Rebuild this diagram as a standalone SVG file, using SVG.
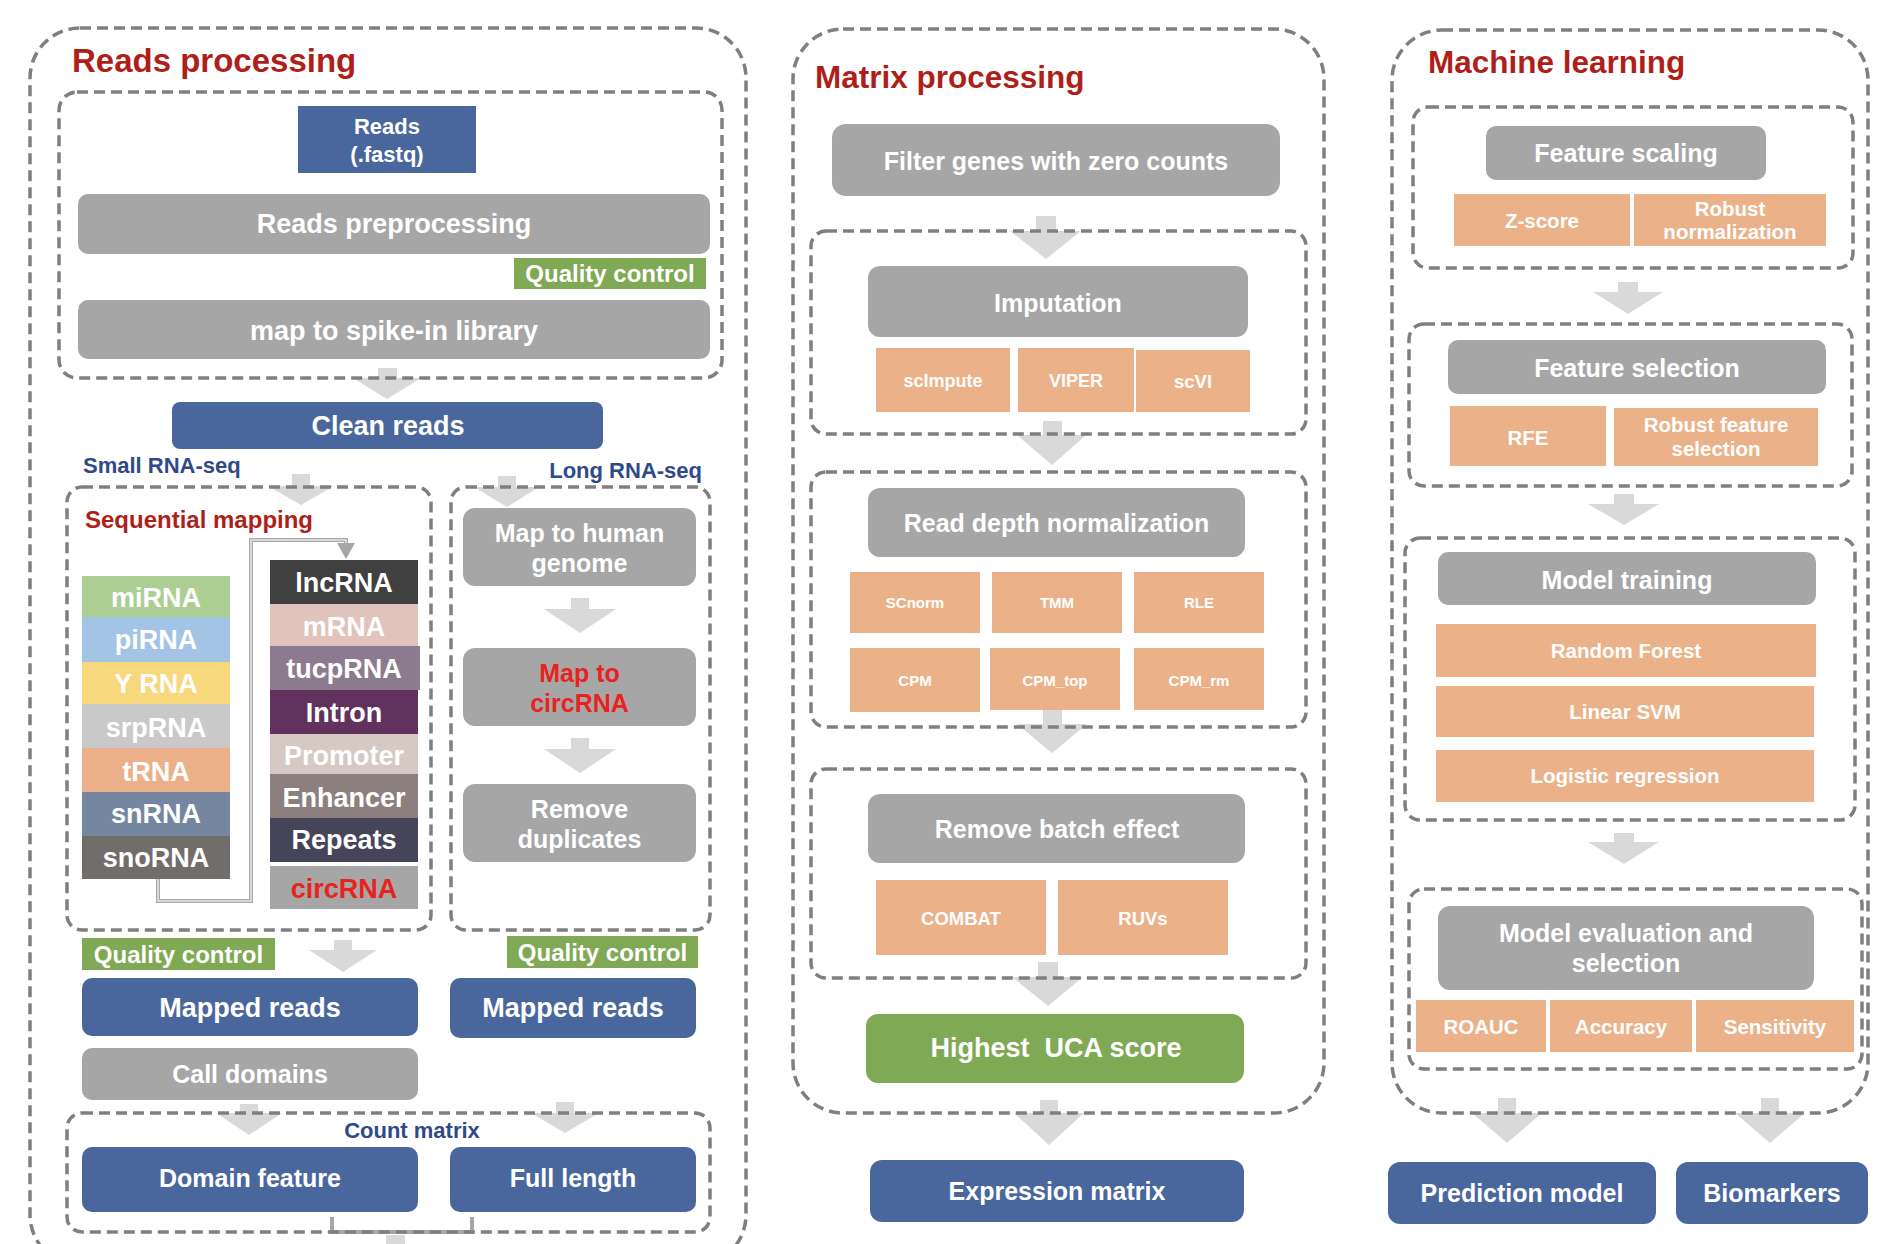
<svg xmlns="http://www.w3.org/2000/svg" width="1888" height="1244" viewBox="0 0 1888 1244">
<style>
.bg{fill:#ffffff}
.dash{fill:none;stroke:#7F7F7F;stroke-width:3.5;stroke-dasharray:11 6}
.arrow{fill:#D9D9D9}
.blue{fill:#4A679D}
.gray{fill:#A6A6A6}
.orange{fill:#EBB28A}
.green{fill:#7FA955}
.t{font-family:"Liberation Sans",Arial,sans-serif;font-weight:bold;fill:#ffffff;text-anchor:middle}
.title{font-family:"Liberation Sans",Arial,sans-serif;font-weight:bold;fill:#AF1F1A}
.lab{font-family:"Liberation Sans",Arial,sans-serif;font-weight:bold;fill:#2E4A88}
.red{fill:#E8231E}
.conn{fill:none;stroke:#A9A9A9;stroke-width:4}
.conn2{fill:none;stroke:#E6E6E6;stroke-width:1.5}
</style>
<rect class="bg" x="0" y="0" width="1888" height="1244"/>

<!-- connectors (block arrows) -->
<g id="connectors">
  <path class="arrow" d="M378,368H397V378H421L387,399L353,378H378Z"/>
  <path class="arrow" d="M292,474H310V486H334L301,505L268,486H292Z"/>
  <path class="arrow" d="M498,476H516V487H539L507,507L474,487H498Z"/>
  <path class="arrow" d="M571,598H589V609H616L580,633L544,609H571Z"/>
  <path class="arrow" d="M571,738H589V749H616L580,773L544,749H571Z"/>
  <path class="arrow" d="M334,940H352V950H377L343,972L309,950H334Z"/>
  <path class="arrow" d="M240,1104H258V1113H282L249,1135L216,1113H240Z"/>
  <path class="arrow" d="M556,1102H574V1113H599L565,1133L531,1113H556Z"/>
  <rect class="arrow" x="386" y="1235" width="19" height="15"/>
  <path class="arrow" d="M1036,216H1056V231H1081L1046,259L1010,231H1036Z"/>
  <path class="arrow" d="M1043,421H1062V435H1086L1052,465L1017,435H1043Z"/>
  <path class="arrow" d="M1043,708H1062V724H1087L1052,753L1017,724H1043Z"/>
  <path class="arrow" d="M1038,962H1058V977H1083L1048,1006L1012,977H1038Z"/>
  <path class="arrow" d="M1040,1100H1058V1113H1084L1049,1145L1014,1113H1040Z"/>
  <path class="arrow" d="M1618,282H1638V292H1663L1628,314L1593,292H1618Z"/>
  <path class="arrow" d="M1614,494H1634V504H1659L1624,525L1588,504H1614Z"/>
  <path class="arrow" d="M1614,833H1634V842H1659L1624,864L1588,842H1614Z"/>
  <path class="arrow" d="M1498,1098H1516V1113H1542L1507,1143L1472,1113H1498Z"/>
  <path class="arrow" d="M1761,1098H1779V1113H1805L1770,1143L1735,1113H1761Z"/>
  <!-- sequential mapping loop connector -->
  <path class="conn" d="M158,879V901H251V540H346V546"/>
  <path class="conn2" d="M158,879V901H251V540H346V546"/>
  <polygon points="337,543 355,543 346,559" fill="#A6A6A6"/>
  <!-- count matrix bracket -->
  <path d="M332,1217V1232H472V1217" fill="none" stroke="#A6A6A6" stroke-width="4"/>
</g>

<!-- ===== Reads processing ===== -->
<g id="reads-processing">
  <rect class="dash" x="30" y="28" width="716" height="1237" rx="50"/>
  <text class="title" x="72" y="72" font-size="33">Reads processing</text>
  <rect class="dash" x="59" y="92" width="663" height="286" rx="18"/>
  <rect class="dash" x="67" y="487" width="364" height="443" rx="15"/>
  <rect class="dash" x="451" y="487" width="259" height="443" rx="15"/>
  <rect class="dash" x="67" y="1113" width="643" height="119" rx="15"/>
</g>

<g id="reads-fastq">
  <rect class="blue" x="298" y="106" width="178" height="67"/>
  <text class="t" x="387" y="134" font-size="22">Reads</text>
  <text class="t" x="387" y="162" font-size="22">(.fastq)</text>
</g>
<g id="reads-preprocessing">
  <rect class="gray" x="78" y="194" width="632" height="60" rx="10"/>
  <text class="t" x="394" y="233" font-size="27">Reads preprocessing</text>
</g>
<g id="qc-top">
  <rect class="green" x="514" y="258" width="192" height="31"/>
  <text class="t" x="610" y="282" font-size="24">Quality control</text>
</g>
<g id="spike-in">
  <rect class="gray" x="78" y="300" width="632" height="59" rx="10"/>
  <text class="t" x="394" y="340" font-size="27">map to spike-in library</text>
</g>
<g id="clean-reads">
  <rect class="blue" x="172" y="402" width="431" height="47" rx="8"/>
  <text class="t" x="388" y="435" font-size="27">Clean reads</text>
</g>
<g id="labels-seq">
  <text class="lab" x="83" y="473" font-size="22">Small RNA-seq</text>
  <text class="lab" x="702" y="478" font-size="22" text-anchor="end">Long RNA-seq</text>
  <text class="title" x="85" y="528" font-size="24">Sequential mapping</text>
</g>

<g id="small-rna-types">
  <rect x="82" y="576" width="148" height="41" fill="#ADCE93"/>
  <text class="t" x="156" y="607" font-size="27">miRNA</text>
  <rect x="82" y="617" width="148" height="45" fill="#A3C4E4"/>
  <text class="t" x="156" y="649" font-size="27">piRNA</text>
  <rect x="82" y="662" width="148" height="42" fill="#F8D87C"/>
  <text class="t" x="156" y="693" font-size="27">Y RNA</text>
  <rect x="82" y="704" width="148" height="44" fill="#C9C9C9"/>
  <text class="t" x="156" y="737" font-size="27">srpRNA</text>
  <rect x="82" y="748" width="148" height="44" fill="#EBB08A"/>
  <text class="t" x="156" y="781" font-size="27">tRNA</text>
  <rect x="82" y="792" width="148" height="44" fill="#7586A0"/>
  <text class="t" x="156" y="823" font-size="27">snRNA</text>
  <rect x="82" y="836" width="148" height="43" fill="#716D6B"/>
  <text class="t" x="156" y="867" font-size="27">snoRNA</text>
</g>
<g id="long-rna-types">
  <rect x="270" y="560" width="148" height="44" fill="#404040"/>
  <text class="t" x="344" y="592" font-size="27">lncRNA</text>
  <rect x="270" y="604" width="148" height="42" fill="#DFC3BC"/>
  <text class="t" x="344" y="636" font-size="27">mRNA</text>
  <rect x="270" y="646" width="150" height="44" fill="#8C7A8F"/>
  <text class="t" x="344" y="678" font-size="27">tucpRNA</text>
  <rect x="270" y="690" width="148" height="44" fill="#61325E"/>
  <text class="t" x="344" y="722" font-size="27">Intron</text>
  <rect x="270" y="734" width="148" height="40" fill="#D6C9C4"/>
  <text class="t" x="344" y="765" font-size="27">Promoter</text>
  <rect x="270" y="774" width="148" height="44" fill="#8C807E"/>
  <text class="t" x="344" y="807" font-size="27">Enhancer</text>
  <rect x="270" y="818" width="148" height="44" fill="#464458"/>
  <text class="t" x="344" y="849" font-size="27">Repeats</text>
  <rect x="270" y="866" width="148" height="43" fill="#A6A6A6"/>
  <text class="t red" x="344" y="898" font-size="27">circRNA</text>
</g>

<g id="map-human">
  <rect class="gray" x="463" y="508" width="233" height="78" rx="12"/>
  <text class="t" x="579.5" y="542" font-size="25">Map to human</text>
  <text class="t" x="579.5" y="572" font-size="25">genome</text>
</g>
<g id="map-circ">
  <rect class="gray" x="463" y="648" width="233" height="78" rx="12"/>
  <text class="t red" x="579.5" y="682" font-size="25">Map to</text>
  <text class="t red" x="579.5" y="712" font-size="25">circRNA</text>
</g>
<g id="remove-dup">
  <rect class="gray" x="463" y="784" width="233" height="78" rx="12"/>
  <text class="t" x="579.5" y="818" font-size="25">Remove</text>
  <text class="t" x="579.5" y="848" font-size="25">duplicates</text>
</g>
<g id="qc-small">
  <rect class="green" x="82" y="938" width="193" height="32"/>
  <text class="t" x="178.5" y="963" font-size="24">Quality control</text>
</g>
<g id="qc-long">
  <rect class="green" x="507" y="936" width="191" height="32"/>
  <text class="t" x="602.5" y="961" font-size="24">Quality control</text>
</g>
<g id="mapped-small">
  <rect class="blue" x="82" y="978" width="336" height="58" rx="10"/>
  <text class="t" x="250" y="1017" font-size="27">Mapped reads</text>
</g>
<g id="mapped-long">
  <rect class="blue" x="450" y="978" width="246" height="60" rx="10"/>
  <text class="t" x="573" y="1017" font-size="27">Mapped reads</text>
</g>
<g id="call-domains">
  <rect class="gray" x="82" y="1048" width="336" height="52" rx="10"/>
  <text class="t" x="250" y="1083" font-size="25">Call domains</text>
</g>
<g id="count-matrix">
  <text class="lab" x="412" y="1138" font-size="22" text-anchor="middle">Count matrix</text>
</g>
<g id="domain-feature">
  <rect class="blue" x="82" y="1147" width="336" height="65" rx="10"/>
  <text class="t" x="250" y="1187" font-size="25">Domain feature</text>
</g>
<g id="full-length">
  <rect class="blue" x="450" y="1147" width="246" height="65" rx="10"/>
  <text class="t" x="573" y="1187" font-size="25">Full length</text>
</g>

<!-- ===== Matrix processing ===== -->
<g id="matrix-processing">
  <rect class="dash" x="793" y="29" width="531" height="1084" rx="50"/>
  <text class="title" x="815" y="88" font-size="31.5">Matrix processing</text>
  <rect class="dash" x="811" y="231" width="495" height="203" rx="15"/>
  <rect class="dash" x="811" y="472" width="495" height="255" rx="15"/>
  <rect class="dash" x="811" y="769" width="495" height="209" rx="15"/>
</g>
<g id="filter-genes">
  <rect class="gray" x="832" y="124" width="448" height="72" rx="14"/>
  <text class="t" x="1056" y="170" font-size="25">Filter genes with zero counts</text>
</g>
<g id="imputation">
  <rect class="gray" x="868" y="266" width="380" height="71" rx="12"/>
  <text class="t" x="1058" y="312" font-size="25">Imputation</text>
</g>
<g id="scimpute">
  <rect class="orange" x="876" y="348" width="134" height="64"/>
  <text class="t" x="943" y="387" font-size="18">scImpute</text>
</g>
<g id="viper">
  <rect class="orange" x="1018" y="348" width="116" height="64"/>
  <text class="t" x="1076" y="387" font-size="18">VIPER</text>
</g>
<g id="scvi">
  <rect class="orange" x="1136" y="350" width="114" height="62"/>
  <text class="t" x="1193" y="388" font-size="18.5">scVI</text>
</g>
<g id="read-depth">
  <rect class="gray" x="868" y="488" width="377" height="69" rx="12"/>
  <text class="t" x="1056.5" y="532" font-size="25">Read depth normalization</text>
</g>
<g id="scnorm">
  <rect class="orange" x="850" y="572" width="130" height="61"/>
  <text class="t" x="915" y="608" font-size="15">SCnorm</text>
</g>
<g id="tmm">
  <rect class="orange" x="992" y="572" width="130" height="61"/>
  <text class="t" x="1057" y="608" font-size="15">TMM</text>
</g>
<g id="rle">
  <rect class="orange" x="1134" y="572" width="130" height="61"/>
  <text class="t" x="1199" y="608" font-size="15">RLE</text>
</g>
<g id="cpm">
  <rect class="orange" x="850" y="648" width="130" height="64"/>
  <text class="t" x="915" y="686" font-size="15">CPM</text>
</g>
<g id="cpm-top">
  <rect class="orange" x="990" y="648" width="130" height="62"/>
  <text class="t" x="1055" y="686" font-size="15">CPM_top</text>
</g>
<g id="cpm-rm">
  <rect class="orange" x="1134" y="648" width="130" height="62"/>
  <text class="t" x="1199" y="686" font-size="15">CPM_rm</text>
</g>
<g id="batch-effect">
  <rect class="gray" x="868" y="794" width="377" height="69" rx="12"/>
  <text class="t" x="1057" y="838" font-size="25">Remove batch effect</text>
</g>
<g id="combat">
  <rect class="orange" x="876" y="880" width="170" height="75"/>
  <text class="t" x="961" y="925" font-size="18.5">COMBAT</text>
</g>
<g id="ruvs">
  <rect class="orange" x="1058" y="880" width="170" height="75"/>
  <text class="t" x="1143" y="925" font-size="18.5">RUVs</text>
</g>
<g id="uca-score">
  <rect class="green" x="866" y="1014" width="378" height="69" rx="12"/>
  <text class="t" x="1056" y="1057" font-size="27" xml:space="preserve">Highest  UCA score</text>
</g>
<g id="expression-matrix">
  <rect class="blue" x="870" y="1160" width="374" height="62" rx="12"/>
  <text class="t" x="1057" y="1200" font-size="25">Expression matrix</text>
</g>

<!-- ===== Machine learning ===== -->
<g id="machine-learning">
  <rect class="dash" x="1392" y="30" width="476" height="1083" rx="50"/>
  <text class="title" x="1428" y="73" font-size="31.5">Machine learning</text>
  <rect class="dash" x="1413" y="107" width="440" height="161" rx="15"/>
  <rect class="dash" x="1409" y="324" width="443" height="162" rx="15"/>
  <rect class="dash" x="1405" y="538" width="450" height="282" rx="15"/>
  <rect class="dash" x="1409" y="889" width="453" height="180" rx="15"/>
</g>
<g id="feature-scaling">
  <rect class="gray" x="1486" y="126" width="280" height="54" rx="10"/>
  <text class="t" x="1626" y="162" font-size="25">Feature scaling</text>
</g>
<g id="z-score">
  <rect class="orange" x="1454" y="194" width="176" height="52"/>
  <text class="t" x="1542" y="228" font-size="20.5">Z-score</text>
</g>
<g id="robust-norm">
  <rect class="orange" x="1634" y="194" width="192" height="52"/>
  <text class="t" x="1730" y="216" font-size="20.5">Robust</text>
  <text class="t" x="1730" y="239" font-size="20.5">normalization</text>
</g>
<g id="feature-selection">
  <rect class="gray" x="1448" y="340" width="378" height="54" rx="10"/>
  <text class="t" x="1637" y="377" font-size="25">Feature selection</text>
</g>
<g id="rfe">
  <rect class="orange" x="1450" y="406" width="156" height="60"/>
  <text class="t" x="1528" y="445" font-size="20.5">RFE</text>
</g>
<g id="robust-fs">
  <rect class="orange" x="1614" y="408" width="204" height="58"/>
  <text class="t" x="1716" y="432" font-size="20.5">Robust feature</text>
  <text class="t" x="1716" y="456" font-size="20.5">selection</text>
</g>
<g id="model-training">
  <rect class="gray" x="1438" y="552" width="378" height="53" rx="10"/>
  <text class="t" x="1627" y="589" font-size="25">Model training</text>
</g>
<g id="random-forest">
  <rect class="orange" x="1436" y="624" width="380" height="53"/>
  <text class="t" x="1626" y="658" font-size="20.5">Random Forest</text>
</g>
<g id="linear-svm">
  <rect class="orange" x="1436" y="686" width="378" height="51"/>
  <text class="t" x="1625" y="719" font-size="20.5">Linear SVM</text>
</g>
<g id="logistic-regression">
  <rect class="orange" x="1436" y="750" width="378" height="52"/>
  <text class="t" x="1625" y="783" font-size="20.5">Logistic regression</text>
</g>
<g id="model-eval">
  <rect class="gray" x="1438" y="906" width="376" height="84" rx="12"/>
  <text class="t" x="1626" y="942" font-size="25">Model evaluation and</text>
  <text class="t" x="1626" y="972" font-size="25">selection</text>
</g>
<g id="roauc">
  <rect class="orange" x="1416" y="1000" width="130" height="52"/>
  <text class="t" x="1481" y="1034" font-size="20.5">ROAUC</text>
</g>
<g id="accuracy">
  <rect class="orange" x="1550" y="1000" width="142" height="52"/>
  <text class="t" x="1621" y="1034" font-size="20.5">Accuracy</text>
</g>
<g id="sensitivity">
  <rect class="orange" x="1696" y="1000" width="158" height="52"/>
  <text class="t" x="1775" y="1034" font-size="20.5">Sensitivity</text>
</g>
<g id="prediction-model">
  <rect class="blue" x="1388" y="1162" width="268" height="62" rx="12"/>
  <text class="t" x="1522" y="1202" font-size="25">Prediction model</text>
</g>
<g id="biomarkers">
  <rect class="blue" x="1676" y="1162" width="192" height="62" rx="12"/>
  <text class="t" x="1772" y="1202" font-size="25">Biomarkers</text>
</g>
</svg>
